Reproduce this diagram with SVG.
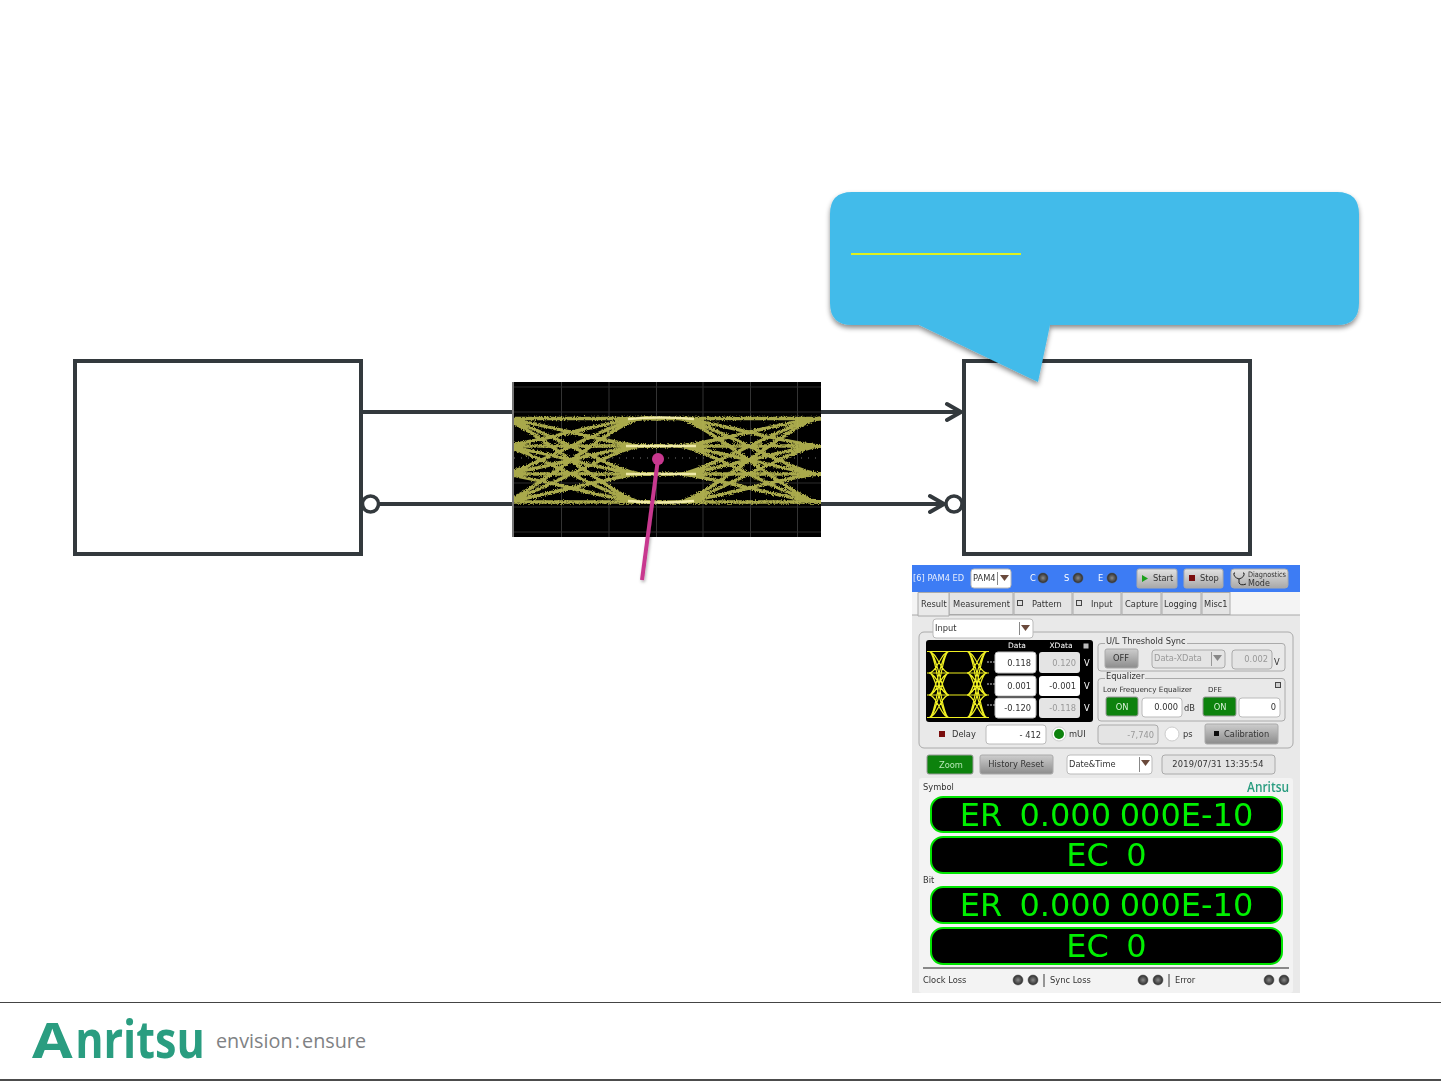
<svg xmlns="http://www.w3.org/2000/svg" width="1441" height="1081" viewBox="0 0 1441 1081">
<style>
.b{fill:#fff;stroke:#33393d;stroke-width:4}
.w{stroke:#33393d;stroke-width:4;fill:none}
.t{font-family:"DejaVu Sans",sans-serif;font-size:8.300px;fill:#333}
.r{text-anchor:end}
.m{text-anchor:middle}
.g{fill:#999}
.wh{fill:#fff}
.in{fill:#fff;stroke:#bbb;stroke-width:1}
.dis{fill:#e4e4e4;stroke:#aaa;stroke-width:1}
.btn{fill:url(#gb);stroke:#aaa;stroke-width:1}
.on{fill:#0a820a;stroke:#999;stroke-width:1}
.gbx{fill:none;stroke:#aaa;stroke-width:1}
.tab{fill:#e4e4e4;stroke:#aaa;stroke-width:1}
.arr{fill:#6b4a3a}
.dp{fill:#000;stroke:#00e400;stroke-width:2}
.dt{font-family:"DejaVu Sans",sans-serif;font-size:32px;fill:#00f000;text-anchor:middle;white-space:pre;word-spacing:-1.500px}
.led{fill:url(#gl);stroke:#555;stroke-width:.5}
.ey{fill:none}
</style>
<defs>
<linearGradient id="gb" x1="0" y1="0" x2="0" y2="1"><stop offset="0" stop-color="#e2e2e2"/><stop offset="1" stop-color="#a8a8a8"/></linearGradient>
<linearGradient id="gd" x1="0" y1="0" x2="0" y2="1"><stop offset="0" stop-color="#cdcdcd"/><stop offset="1" stop-color="#8c8c8c"/></linearGradient>
<radialGradient id="gl"><stop offset="0" stop-color="#8a8a8a"/><stop offset="1" stop-color="#2a2a2a"/></radialGradient>
<filter id="sh" x="-10%" y="-10%" width="120%" height="125%"><feDropShadow dx="0" dy="3" stdDeviation="2.500" flood-color="#000" flood-opacity=".45"/></filter>
<filter id="sp" x="-50%" y="-10%" width="200%" height="120%"><feDropShadow dx="1" dy="2" stdDeviation="1.500" flood-color="#000" flood-opacity=".3"/></filter>
<filter id="fuzz" filterUnits="userSpaceOnUse" x="505" y="375" width="325" height="170"><feTurbulence type="fractalNoise" baseFrequency="0.9" numOctaves="2" seed="3"/><feDisplacementMap in="SourceGraphic" scale="4" xChannelSelector="R" yChannelSelector="G"/><feGaussianBlur stdDeviation=".3"/></filter>
<filter id="soft" filterUnits="userSpaceOnUse" x="905" y="560" width="400" height="440"><feGaussianBlur stdDeviation=".35"/></filter>
<filter id="lg" x="-5%" y="-5%" width="110%" height="110%"><feGaussianBlur stdDeviation=".4"/></filter>
<clipPath id="ce"><rect x="514" y="382" width="307" height="155"/></clipPath>
<clipPath id="cm"><rect x="927" y="650" width="62" height="69"/></clipPath>
<g id="period">
<path d="M483 418.500H500C525 418.500 617 418.500 642 418.500H661M483 418.500H500C525 418.500 617 446 642 446H661M483 418.500H500C525 418.500 617 474 642 474H661M483 418.500H500C525 418.500 617 502 642 502H661"/>
<path d="M483 446H500C525 446 617 418.500 642 418.500H661M483 446H500C525 446 617 446 642 446H661M483 446H500C525 446 617 474 642 474H661M483 446H500C525 446 617 502 642 502H661"/>
<path d="M483 474H500C525 474 617 418.500 642 418.500H661M483 474H500C525 474 617 446 642 446H661M483 474H500C525 474 617 474 642 474H661M483 474H500C525 474 617 502 642 502H661"/>
<path d="M483 502H500C525 502 617 418.500 642 418.500H661M483 502H500C525 502 617 446 642 446H661M483 502H500C525 502 617 474 642 474H661M483 502H500C525 502 617 502 642 502H661"/>
</g>
<g id="two" class="ey"><use href="#period"/><use href="#period" x="178"/></g>
<path id="mini" d="M929 651.500C937 651.500 941 673 949 673M929 651.500C937 651.500 941 695 949 695M929 651.500C937 651.500 941 717.500 949 717.500M929 673C937 673 941 651.500 949 651.500M929 673C937 673 941 695 949 695M929 673C937 673 941 717.500 949 717.500M929 695C937 695 941 651.500 949 651.500M929 695C937 695 941 673 949 673M929 695C937 695 941 717.500 949 717.500M929 717.500C937 717.500 941 651.500 949 651.500M929 717.500C937 717.500 941 673 949 673M929 717.500C937 717.500 941 695 949 695"/>
</defs>
<rect width="1441" height="1081" fill="#fff"/>

<g id="connectors">
<path class="w" d="M362 412H514M378 504H514M820 412H960M820 504H943"/>
<path class="w" stroke-linecap="round" d="M947 404L961 412L947 420M930 496L944 504L930 512"/>
</g>

<g id="tx"><rect class="b" x="75" y="361" width="286" height="193"/><circle cx="370.500" cy="504" r="8" fill="#fff" stroke="#33393d" stroke-width="3.500"/></g>
<g id="rx"><rect class="b" x="964" y="361" width="286" height="193"/><circle cx="954" cy="504" r="8" fill="#fff" stroke="#33393d" stroke-width="3.500"/></g>

<g id="callout">
<path d="M852 192H1337Q1359 192 1359 214V303Q1359 325 1337 325H1050L1038 382L919 325H852Q830 325 830 303V214Q830 192 852 192Z" fill="#43bbea" filter="url(#sh)"/>
<path d="M851 254H1021" stroke="#dff01e" stroke-width="2" fill="none"/>
</g>

<g id="eye">
<rect x="512" y="382" width="309" height="155" fill="#000"/>
<path d="M561.500 382V537M609 382V537M656.500 382V537M703 382V537M750.500 382V537M797.500 382V537" stroke="#333" fill="none"/>
<path d="M514 387H821M514 412H821M514 483H821M514 507H821M514 532H821" stroke="#2c2c2c" fill="none"/>
<path d="M514 458H821" stroke="#777" stroke-dasharray="1 6" fill="none"/>
<path d="M513 382V537" stroke="#777" stroke-width="2" fill="none"/>
<g clip-path="url(#ce)">
<g filter="url(#fuzz)"><use href="#two" stroke="#bcbc54" stroke-width="3.400" opacity=".9"/></g>
<path d="M628 419Q661 416 694 419M626 446H696M626 474H696M628 501Q661 504 694 501" stroke="#efeaa8" stroke-width="2.600" fill="none"/>
</g>
</g>

<g id="probe" filter="url(#sp)"><path d="M658 459L642 580" stroke="#c8388f" stroke-width="4" fill="none"/><circle cx="658" cy="459" r="6" fill="#c8388f"/></g>

<g id="panel" filter="url(#soft)">
<rect x="912" y="565" width="388" height="428" fill="#e9e9e9"/>
<rect x="912" y="565" width="388" height="27" fill="#3c7cf4"/>
<rect x="912" y="592" width="388" height="23" fill="#f4f4f4"/>
<path d="M912 615H918M949 615H1300" stroke="#aaa" fill="none"/>
<text class="t" x="913" y="581" style="fill:#e8eefc">[6] PAM4 ED</text>
<rect class="in" x="971" y="569" width="40" height="19" rx="3"/><text class="t" x="973" y="581">PAM4</text><path d="M997.500 572V585" stroke="#888"/><path class="arr" d="M1000 575H1009L1004.500 581Z"/>
<text class="t wh" x="1030" y="581">C</text><circle class="led" cx="1043" cy="578" r="5"/>
<text class="t wh" x="1064" y="581">S</text><circle class="led" cx="1078" cy="578" r="5"/>
<text class="t wh" x="1098" y="581">E</text><circle class="led" cx="1112" cy="578" r="5"/>
<rect class="btn" x="1137" y="569" width="40" height="19" rx="2"/><path d="M1142 575L1148 578.500L1142 582Z" fill="#1aa01a"/><text class="t" x="1153" y="581">Start</text>
<rect class="btn" x="1184" y="569" width="39" height="19" rx="2"/><rect x="1189" y="575" width="6" height="6" fill="#7a1010"/><text class="t" x="1200" y="581">Stop</text>
<rect class="btn" x="1231" y="569" width="57" height="19" rx="3"/><path d="M1235 573H1234Q1233 577 1239 579Q1245 577 1244 573H1243M1239 579V583Q1241 586 1246 584" fill="none" stroke="#222"/><text class="t" x="1248" y="577" textLength="38" lengthAdjust="spacingAndGlyphs" style="font-size:7.500px">Diagnostics</text><text class="t" x="1248" y="585.500" style="font-size:8px">Mode</text>

<rect class="tab" x="949" y="592.500" width="64" height="22"/><rect class="tab" x="1014" y="592.500" width="58" height="22"/><rect class="tab" x="1073" y="592.500" width="48" height="22"/><rect class="tab" x="1122" y="592.500" width="39" height="22"/><rect class="tab" x="1162" y="592.500" width="39" height="22"/><rect class="tab" x="1202" y="592.500" width="28" height="22"/>
<path d="M918 616V592.500H949V616Z" fill="#e9e9e9" stroke="#aaa"/>
<text class="t" x="921" y="607">Result</text><text class="t" x="953" y="607">Measurement</text>
<rect x="1017.500" y="600.500" width="5" height="5" fill="#ddd" stroke="#444"/><text class="t" x="1032" y="607">Pattern</text>
<rect x="1076.500" y="600.500" width="5" height="5" fill="#ddd" stroke="#444"/><text class="t" x="1091" y="607">Input</text>
<text class="t" x="1125" y="607">Capture</text><text class="t" x="1164" y="607">Logging</text><text class="t" x="1204" y="607">Misc1</text>

<rect class="gbx" x="919" y="632" width="374" height="116" rx="5"/>
<rect class="in" x="933" y="619" width="100" height="19" rx="3"/><text class="t" x="935" y="631">Input</text><path d="M1019.500 622V635" stroke="#888"/><path class="arr" d="M1021 625H1030L1025.500 631Z"/>

<rect x="926" y="640" width="167" height="82" rx="3" fill="#000"/>
<g clip-path="url(#cm)" stroke="#eeee22" stroke-width="1.100" fill="none">
<path d="M926 651.500H989M926 673H989M926 695H989M926 717.500H989"/>
<use href="#mini"/><use href="#mini" x="38"/><use href="#mini" x="-38"/>
</g>
<path d="M987 662H995M987 684H995M987 705H995" stroke="#ccc" stroke-dasharray="2 1"/>
<text class="t wh m" x="1017" y="648" style="font-size:7.500px">Data</text><text class="t wh m" x="1061" y="648" style="font-size:7.500px">XData</text>
<rect x="1083.500" y="643.500" width="5" height="5" fill="#bbb"/>
<rect class="in" x="995" y="652" width="41" height="21" rx="3"/><rect class="in" x="995" y="676" width="41" height="20" rx="3"/><rect class="in" x="995" y="698" width="41" height="20" rx="3"/>
<rect class="dis" x="1039" y="652" width="41" height="21" rx="3" style="stroke:none"/><rect class="dis" x="1039" y="676" width="41" height="20" rx="3" style="fill:#fff;stroke:none"/><rect class="dis" x="1039" y="698" width="41" height="20" rx="3" style="stroke:none"/>
<text class="t r" x="1031" y="666">0.118</text><text class="t r" x="1031" y="689">0.001</text><text class="t r" x="1031" y="711">-0.120</text>
<text class="t r g" x="1076" y="666">0.120</text><text class="t r" x="1076" y="689">-0.001</text><text class="t r g" x="1076" y="711">-0.118</text>
<text class="t wh" x="1084" y="666">V</text><text class="t wh" x="1084" y="689">V</text><text class="t wh" x="1084" y="711">V</text>

<rect class="gbx" x="1098" y="643.500" width="187" height="27.500" rx="3"/><rect x="1105" y="638" width="82" height="9" fill="#e9e9e9"/><text class="t" x="1106" y="644">U/L Threshold Sync</text>
<rect class="btn" x="1105" y="649" width="33" height="19" rx="2" style="fill:url(#gd)"/><text class="t m" x="1121" y="661">OFF</text>
<rect class="dis" x="1152" y="650" width="73" height="18" rx="3"/><text class="t g" x="1154" y="661">Data-XData</text><path d="M1211.500 652V666" stroke="#999"/><path d="M1213 655H1222L1217.500 661Z" fill="#888"/>
<rect class="dis" x="1232" y="650" width="40" height="19" rx="3"/><text class="t r g" x="1268" y="662">0.002</text><text class="t" x="1274" y="665">V</text>

<rect class="gbx" x="1098" y="678.500" width="187" height="42.500" rx="3"/><rect x="1105" y="674" width="40" height="9" fill="#e9e9e9"/><text class="t" x="1106" y="679">Equalizer</text>
<text class="t" x="1103" y="692" style="font-size:7.200px">Low Frequency Equalizer</text><text class="t" x="1208" y="692" style="font-size:7px">DFE</text><rect x="1275.500" y="682.500" width="5" height="5" fill="#ccc" stroke="#444"/>
<rect class="on" x="1106" y="697" width="32" height="19" rx="2"/><text class="t m" x="1122" y="710" style="fill:#d8f0d8">ON</text>
<rect class="in" x="1142" y="698" width="40" height="19" rx="3"/><text class="t r" x="1178" y="710">0.000</text><text class="t" x="1184" y="711">dB</text>
<rect class="on" x="1203" y="697" width="33" height="19" rx="2"/><text class="t m" x="1220" y="710" style="fill:#d8f0d8">ON</text>
<rect class="in" x="1239" y="698" width="41" height="19" rx="3"/><text class="t r" x="1276" y="710">0</text>

<rect x="939" y="731" width="6" height="6" fill="#7a1010"/><text class="t" x="952" y="737">Delay</text>
<rect class="in" x="986" y="725" width="60" height="19" rx="3"/><text class="t r" x="1041" y="738">- 412</text>
<circle cx="1059" cy="734" r="7" fill="#fff" stroke="#ccc"/><circle cx="1059" cy="734" r="5" fill="#0a820a"/><text class="t" x="1069" y="737">mUI</text>
<rect class="dis" x="1098" y="725" width="60" height="19" rx="3"/><text class="t r g" x="1154" y="738">-7,740</text>
<circle cx="1172" cy="734" r="7" fill="#fff" stroke="#ccc"/><text class="t" x="1183" y="737">ps</text>
<rect class="btn" x="1205" y="724" width="73" height="20" rx="2" style="fill:url(#gd)"/><rect x="1214" y="731" width="5" height="5" fill="#111"/><text class="t" x="1224" y="737">Calibration</text>

<rect class="on" x="927" y="755" width="46" height="19" rx="2"/><text class="t m" x="951" y="768" style="fill:#b8e8b8">Zoom</text>
<rect class="btn" x="980" y="755" width="73" height="19" rx="2" style="fill:url(#gd)"/><text class="t m" x="1016" y="767">History Reset</text>
<rect class="in" x="1067" y="755" width="85" height="19" rx="3"/><text class="t" x="1069" y="767">Date&amp;Time</text><path d="M1139.500 757V772" stroke="#888"/><path class="arr" d="M1141 760H1150L1145.500 766Z"/>
<rect class="dis" x="1162" y="755" width="113" height="19" rx="3"/><text class="t m" x="1218" y="767" style="letter-spacing:.2px">2019/07/31 13:35:54</text>

<rect x="919" y="778" width="374" height="215" rx="3" fill="#f3f3f3"/>
<text class="t" x="923" y="790">Symbol</text><text x="1247" y="792" textLength="42" lengthAdjust="spacingAndGlyphs" style="font-family:'Open Sans',sans-serif;font-weight:600;font-size:14px;fill:#2a9d80">Anritsu</text>
<rect class="dp" x="931" y="797" width="351" height="35" rx="12"/><text class="dt" x="1106.500" y="826">ER  0.000 000E-10</text>
<rect class="dp" x="931" y="837" width="351" height="36" rx="12"/><text class="dt" x="1106.500" y="866">EC  0</text>
<text class="t" x="923" y="883">Bit</text>
<rect class="dp" x="931" y="887" width="351" height="36" rx="12"/><text class="dt" x="1106.500" y="916">ER  0.000 000E-10</text>
<rect class="dp" x="931" y="928" width="351" height="36" rx="12"/><text class="dt" x="1106.500" y="957">EC  0</text>
<path d="M923 968H1289" stroke="#888" stroke-width="2"/>
<text class="t" x="923" y="983">Clock Loss</text><circle class="led" cx="1018" cy="980" r="5"/><circle class="led" cx="1033" cy="980" r="5"/><path d="M1044 974V987" stroke="#777" stroke-width="1.500"/>
<text class="t" x="1050" y="983">Sync Loss</text><circle class="led" cx="1143" cy="980" r="5"/><circle class="led" cx="1158" cy="980" r="5"/><path d="M1169 974V987" stroke="#777" stroke-width="1.500"/>
<text class="t" x="1175" y="983">Error</text><circle class="led" cx="1269" cy="980" r="5"/><circle class="led" cx="1284" cy="980" r="5"/>
</g>

<g id="footer">
<path d="M0 1002.500H1441" stroke="#444" fill="none"/>
<path d="M0 1080H1441" stroke="#111" stroke-width="1.500" fill="none"/>
<text transform="translate(32 1058) scale(.83 1)" filter="url(#lg)" style="font-family:'Open Sans',sans-serif;font-weight:700;font-size:52px;fill:#2a9d80"><tspan x="0" textLength="49" lengthAdjust="spacingAndGlyphs" style="font-size:48px">A</tspan><tspan x="52">nritsu</tspan></text>
<text x="216" y="1048" textLength="150" lengthAdjust="spacingAndGlyphs" style="font-family:'Open Sans',sans-serif;font-size:20px;word-spacing:-3px;fill:#808284">envision : ensure</text>
</g>
</svg>
